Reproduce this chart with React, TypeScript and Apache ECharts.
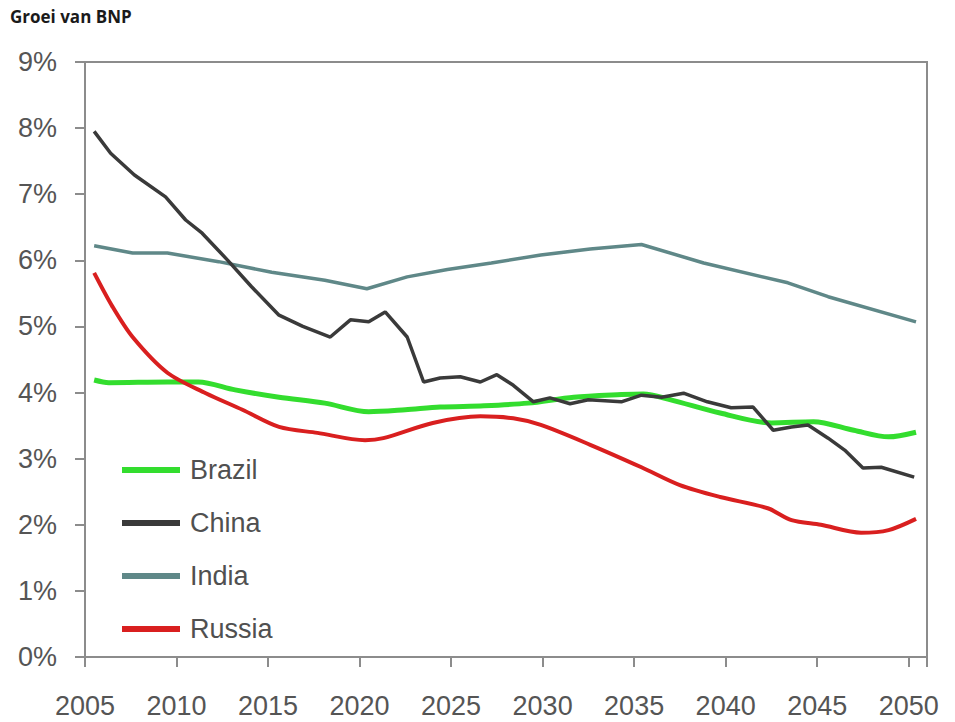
import React, { useEffect, useRef } from "react";
import * as echarts from "echarts";

const TITLE = "Groei van BNP";
const X_MIN = 2005;
const X_MAX = 2051;
const Y_TICKS = [0, 1, 2, 3, 4, 5, 6, 7, 8, 9];

const brazilYears = [2005.5, 2006.3, 2009.5, 2011.2, 2013.2, 2015.6, 2018.1, 2020.5, 2022.5, 2024.4, 2026.8, 2029.2, 2031.7, 2034.3, 2035.5, 2037, 2039.7, 2042.5, 2044.8, 2047, 2048.9, 2050.4];
const brazilValues = [4.19, 4.15, 4.16, 4.16, 4.04, 3.93, 3.84, 3.71, 3.74, 3.78, 3.8, 3.84, 3.93, 3.97, 3.98, 3.89, 3.69, 3.54, 3.56, 3.43, 3.33, 3.4];

const chinaYears = [2005.5, 2006.4, 2007.7, 2009.4, 2010.5, 2011.4, 2012.8, 2014.1, 2015.6, 2016.9, 2018.4, 2019.5, 2020.5, 2021.4, 2022.6, 2023.5, 2024.4, 2025.5, 2026.6, 2027.5, 2028.4, 2029.5, 2030.4, 2031.5, 2032.5, 2034.3, 2035.4, 2036.5, 2037.7, 2039.0, 2040.3, 2041.5, 2042.6, 2043.6, 2044.5, 2045.6, 2046.5, 2047.5, 2048.5, 2050.3];
const chinaValues = [7.95, 7.62, 7.29, 6.96, 6.61, 6.41, 6.0, 5.6, 5.17, 5.0, 4.84, 5.1, 5.07, 5.22, 4.84, 4.16, 4.22, 4.24, 4.16, 4.27, 4.11, 3.86, 3.92, 3.83, 3.89, 3.86, 3.96, 3.93, 3.99, 3.86, 3.77, 3.78, 3.43, 3.48, 3.51, 3.31, 3.13, 2.86, 2.87, 2.72];

const indiaYears = [2005.5, 2007.6, 2009.5, 2012.3, 2015.2, 2018.1, 2020.4, 2022.6, 2024.8, 2027.2, 2029.9, 2032.6, 2035.4, 2038.8, 2043.4, 2045.6, 2050.4];
const indiaValues = [6.22, 6.11, 6.11, 5.98, 5.82, 5.7, 5.57, 5.75, 5.86, 5.96, 6.08, 6.17, 6.24, 5.96, 5.66, 5.45, 5.07];

const russiaYears = [2005.5, 2006.5, 2007.6, 2009.5, 2011.6, 2013.6, 2015.6, 2017.7, 2020.3, 2021.3, 2024, 2026.6, 2028.4, 2029.9, 2032.6, 2035.4, 2037.5, 2039.7, 2042.3, 2043.6, 2045.2, 2047.4, 2048.9, 2050.4];
const russiaValues = [5.81, 5.3, 4.84, 4.3, 3.99, 3.74, 3.48, 3.39, 3.28, 3.31, 3.54, 3.64, 3.61, 3.51, 3.21, 2.87, 2.6, 2.42, 2.25, 2.07, 2.0, 1.88, 1.92, 2.09];

const pairs = (xs: number[], ys: number[]) => xs.map((x, i) => [x, ys[i]]);

export default function App() {
  const ref = useRef<HTMLDivElement>(null);
  useEffect(() => {
    if (!ref.current) return;
    const chart = echarts.init(ref.current, null, { renderer: "svg" });
    const labelFont = "'Liberation Sans', Arial, sans-serif";
    chart.setOption({
      animation: false,
      backgroundColor: "#ffffff",
      title: {
        text: TITLE,
        left: 5,
        top: 3,
        textStyle: { fontFamily: "'Open Sans', sans-serif", fontWeight: "bold", fontSize: 17, color: "#1a1a1a" },
      },
      grid: {
        left: 85,
        right: 28,
        top: 62,
        bottom: 65,
        show: true,
        borderColor: "#8c8c8c",
        borderWidth: 2,
      },
      legend: {
        orient: "vertical",
        left: 122,
        top: 455,
        padding: 0,
        icon: "rect",
        itemWidth: 58,
        itemHeight: 6,
        itemGap: 23,
        textStyle: { fontFamily: labelFont, fontSize: 27, color: "#505050", lineHeight: 30, padding: [0, 0, 0, 5] },
        data: ["Brazil", "China", "India", "Russia"],
      },
      xAxis: {
        type: "value",
        min: X_MIN,
        max: X_MAX,
        interval: 5,
        splitLine: { show: false },
        axisLine: { show: true, lineStyle: { color: "#8c8c8c", width: 2 } },
        axisTick: { show: true, length: 10, lineStyle: { color: "#8c8c8c", width: 2 } },
        axisLabel: {
          margin: 35,
          fontFamily: labelFont,
          fontSize: 27,
          color: "#555",
          formatter: (v: number) => (v > 2050 ? "" : String(v)),
        },
      },
      yAxis: {
        type: "value",
        min: Y_TICKS[0],
        max: Y_TICKS[Y_TICKS.length - 1],
        interval: 1,
        splitLine: { show: false },
        axisLine: { show: true, lineStyle: { color: "#8c8c8c", width: 2 } },
        axisTick: { show: true, length: 10, lineStyle: { color: "#8c8c8c", width: 2 } },
        axisLabel: { margin: 28, fontFamily: labelFont, fontSize: 27, color: "#555", formatter: "{value}%" },
      },
      series: [
        {
          name: "Brazil",
          type: "line",
          data: pairs(brazilYears, brazilValues),
          showSymbol: false,
          symbol: "none",
          smooth: 0.3,
          color: "#33dd2e",
          lineStyle: { width: 5, color: "#33dd2e" },
          z: 2,
        },
        {
          name: "China",
          type: "line",
          data: pairs(chinaYears, chinaValues),
          showSymbol: false,
          symbol: "none",
          color: "#3a3a3a",
          lineStyle: { width: 3.5, color: "#3a3a3a" },
          z: 3,
        },
        {
          name: "India",
          type: "line",
          data: pairs(indiaYears, indiaValues),
          showSymbol: false,
          symbol: "none",
          color: "#5f8888",
          lineStyle: { width: 3.5, color: "#5f8888" },
          z: 2,
        },
        {
          name: "Russia",
          type: "line",
          data: pairs(russiaYears, russiaValues),
          showSymbol: false,
          symbol: "none",
          smooth: 0.3,
          color: "#d91f1f",
          lineStyle: { width: 4, color: "#d91f1f" },
          z: 2,
        },
      ],
    });
    return () => chart.dispose();
  }, []);
  return (
    <div
      ref={ref}
      style={{ position: "fixed", left: 0, top: 0, width: 955, height: 722, background: "#fff" }}
    />
  );
}
